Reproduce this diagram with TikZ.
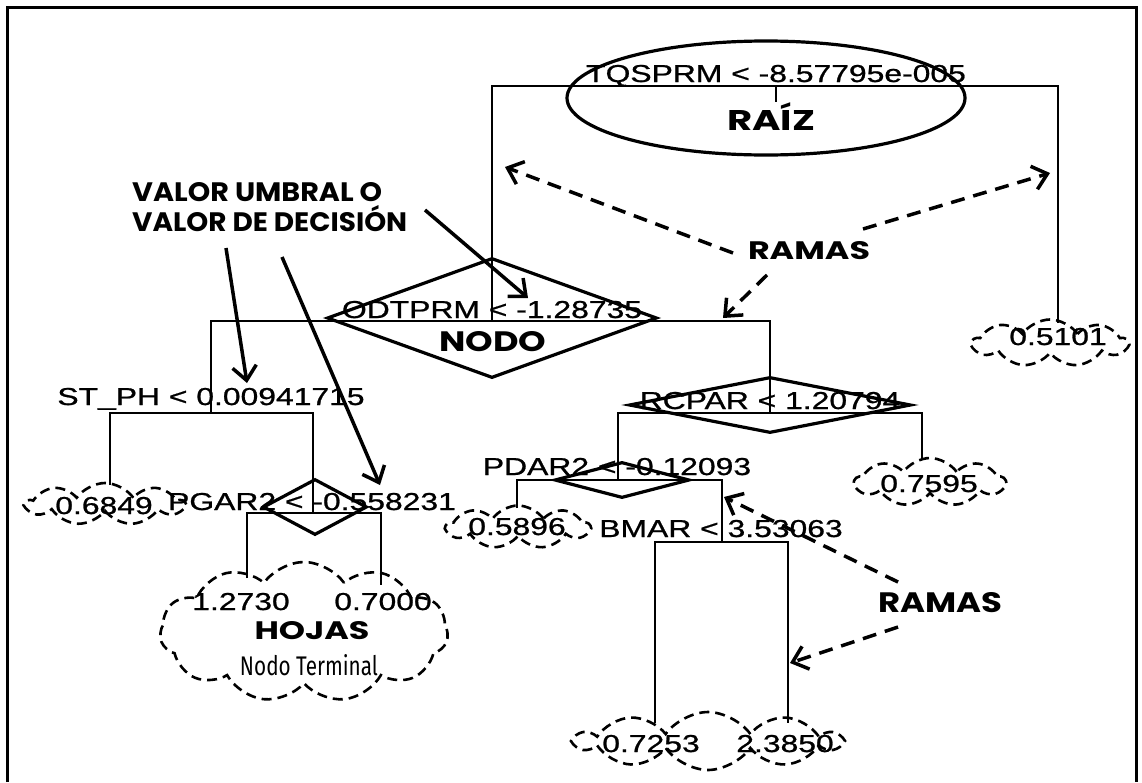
\documentclass[tikz,border=0pt]{standalone}
\usepackage{fontspec}
\setmainfont{Liberation Sans}
\newfontfamily\labfont{Liberation Sans}[FakeBold=0.8]
\newfontfamily\popb{Poppins}
\newfontfamily\fira{Fira Sans}
\usetikzlibrary{shapes.geometric,shapes.symbols,arrows.meta}
\newcommand{\stretchlab}[1]{\scalebox{1.3}[1]{\labfont\fontsize{24.5}{25}\selectfont #1}}
\begin{document}
\begin{tikzpicture}[x=1pt,y=-1pt,
  treeline/.style={line width=1.5pt},
  shapeline/.style={line width=3.2pt},
  lbl/.style={anchor=base,inner sep=0pt},
  big/.style={inner sep=0pt},
  leaf/.style={cloud,cloud puffs=9,cloud puff arc=110,cloud ignores aspect,draw,line width=2.6pt,dash pattern=on 10pt off 6pt,inner sep=0pt},
  solidarrow/.style={line width=3.5pt,-{Straight Barb[length=14pt,width=24pt]}},
  dasharrow/.style={line width=3.5pt,dash pattern=on 14pt off 9pt,-{Straight Barb[length=14pt,width=24pt]}}]
\useasboundingbox (0,0) rectangle (1142,782);
% frame
\draw[line width=3pt] (7,782) -- (7,7) -- (1136,7) -- (1136,782);

% root ellipse
\node[ellipse,draw,shapeline,minimum width=398pt,minimum height=114pt] (root) at (766,98) {};
% diamonds
\node[diamond,draw,shapeline,minimum width=330pt,minimum height=120pt,inner sep=0pt] (dODT) at (492,318) {};
\node[diamond,draw,shapeline,minimum width=282pt,minimum height=56pt,inner sep=0pt] (dRCP) at (770,405) {};
\node[diamond,draw,shapeline,minimum width=135pt,minimum height=36pt,inner sep=0pt] (dPDA) at (622,480) {};
\node[diamond,draw,shapeline,minimum width=104pt,minimum height=56pt,inner sep=0pt] (dPGA) at (315,507) {};

% clouds
\node[leaf,minimum width=155pt,minimum height=47pt] (c1) at (1050,343) {};
\node[leaf,minimum width=150pt,minimum height=48pt] (c2) at (930,482) {};
\node[leaf,minimum width=143pt,minimum height=43pt] (c3) at (518,527) {};
\node[leaf,minimum width=158pt,minimum height=42pt] (c4) at (105,504) {};
\node[leaf,cloud puffs=11,minimum width=288pt,minimum height=140pt] (c5) at (304,632) {};
\node[leaf,cloud puffs=10,minimum width=263pt,minimum height=58pt] (c6) at (708,741) {};

% tree coordinates
\coordinate (rL) at (492,86);  \coordinate (rR) at (1058,86);
\coordinate (rS) at (776,87);  \coordinate (rS2) at (776,102);
\coordinate (oL) at (211,321); \coordinate (oR) at (770,321); \coordinate (oM) at (492,321);
\coordinate (sL) at (110,413); \coordinate (sR) at (313,413); \coordinate (sM) at (211,413);
\coordinate (kL) at (618,413); \coordinate (kR) at (922,413); \coordinate (kM) at (770,413);
\coordinate (pL) at (517,480); \coordinate (pR) at (722,480); \coordinate (pM) at (618,480);
\coordinate (gL) at (247,513); \coordinate (gR) at (381,513); \coordinate (gM) at (313,513);
\coordinate (bL) at (655,542); \coordinate (bR) at (788,542); \coordinate (bM) at (722,542);
\coordinate (e1) at (1058,323); \coordinate (e2) at (922,460); \coordinate (e3) at (517,508);
\coordinate (e4) at (110,485);  \coordinate (e5) at (247,578); \coordinate (e6) at (381,585);
\coordinate (e7) at (655,723);  \coordinate (e8) at (788,723);

\draw[treeline] (e4) -- (sL) -- (sR) -- (gM);
\draw[treeline] (sM) -- (oL) -- (oR) -- (kM);
\draw[treeline] (oM) -- (rL) -- (rR) -- (e1);
\draw[treeline] (rS) -- (rS2);
\draw[treeline] (e2) -- (kR) -- (kL) -- (pM);
\draw[treeline] (e3) -- (pL) -- (pR) -- (bM);
\draw[treeline] (e5) -- (gL) -- (gR) -- (e6);
\draw[treeline] (e7) -- (bL) -- (bR) -- (e8);

% split labels
\node[lbl] (tT) at (776,82) {\stretchlab{TQSPRM < -8.57795e-005}};
\node[lbl] (tO) at (492,318) {\stretchlab{ODTPRM < -1.28735}};
\node[lbl] (tS) at (211,405) {\stretchlab{ST\_PH < 0.00941715}};
\node[lbl] (tR) at (770,409) {\stretchlab{RCPAR < 1.20794}};
\node[lbl] (tP) at (617,475) {\stretchlab{PDAR2 < -0.12093}};
\node[lbl] (tG) at (312,510) {\stretchlab{PGAR2 < -0.558231}};
\node[lbl] (tB) at (721,537) {\stretchlab{BMAR < 3.53063}};
% leaf labels
\node[lbl] (l1) at (1058,345) {\stretchlab{0.5101}};
\node[lbl] (l2) at (929,492) {\stretchlab{0.7595}};
\node[lbl] (l3) at (517,535) {\stretchlab{0.5896}};
\node[lbl] (l4) at (104,514) {\stretchlab{0.6849}};
\node[lbl] (l5) at (241,610) {\stretchlab{1.2730}};
\node[lbl] (l6) at (383,610) {\stretchlab{0.7000}};
\node[lbl] (l7) at (651,752) {\stretchlab{0.7253}};
\node[lbl] (l8) at (785,752) {\stretchlab{2.3850}};

% bold annotations
\node[big] (raiz) at (771,120) {\resizebox{88pt}{20pt}{\popb\bfseries RA\smash{Í}Z}};
\node[big] (nodo) at (493,342) {\resizebox{107pt}{20pt}{\popb\bfseries NODO}};
\node[big] (hojas) at (312,631) {\resizebox{115pt}{18pt}{\popb\bfseries HOJAS}};
\node[big] (nterm) at (309,665) {\resizebox{138pt}{21pt}{\fira Nodo Terminal}};
\node[big] (ramas1) at (809,251) {\resizebox{122pt}{18pt}{\popb\bfseries RAMAS}};
\node[big] (ramas2) at (940,603) {\resizebox{124pt}{20pt}{\popb\bfseries RAMAS}};
\node[big,anchor=west] (val1) at (132,192.5) {\resizebox{250pt}{19pt}{\popb\bfseries VALOR UMBRAL O}};
\node[big,anchor=west] (val2) at (132,222.5) {\resizebox{275pt}{19pt}{\popb\bfseries VALOR DE DECISI\smash{Ó}N}};

% solid arrows
\coordinate (a1s) at (425,210); \coordinate (a1e) at (528,298);
\coordinate (a2s) at (226,248); \coordinate (a2e) at (247,383);
\coordinate (a3s) at (282,257); \coordinate (a3e) at (380,485);
\draw[solidarrow] (a1s) -- (a1e);
\draw[solidarrow] (a2s) -- (a2e);
\draw[solidarrow] (a3s) -- (a3e);

% dashed arrows
\coordinate (d1s) at (733,253); \coordinate (d1e) at (505,167);
\coordinate (d2s) at (863,229); \coordinate (d2e) at (1050,173);
\coordinate (d3s) at (767,275); \coordinate (d3e) at (723,318);
\coordinate (d4s) at (898,582); \coordinate (d4e) at (724,497);
\coordinate (d5s) at (898,627); \coordinate (d5e) at (790,663);
\draw[dasharrow] (d1s) -- (d1e);
\draw[dasharrow] (d2s) -- (d2e);
\draw[dasharrow] (d3s) -- (d3e);
\draw[dasharrow] (d4s) -- (d4e);
\draw[dasharrow] (d5s) -- (d5e);
\end{tikzpicture}
\end{document}
